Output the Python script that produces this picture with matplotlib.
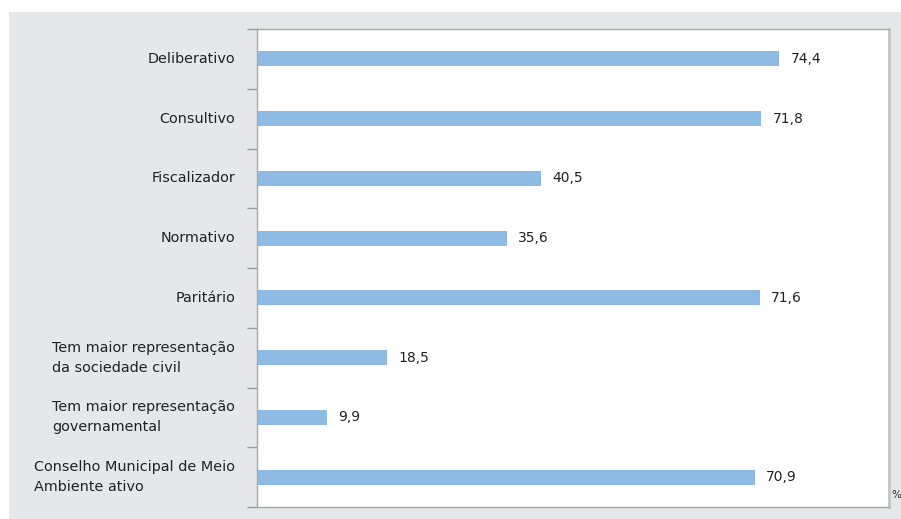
import matplotlib.pyplot as plt
from matplotlib.patches import Rectangle

# dados (%)
categorias = [
    "Deliberativo",
    "Consultivo",
    "Fiscalizador",
    "Normativo",
    "Paritário",
    "Tem maior representação\nda sociedade civil",
    "Tem maior representação\ngovernamental",
    "Conselho Municipal de Meio\nAmbiente ativo",
]
valores = [74.4, 71.8, 40.5, 35.6, 71.6, 18.5, 9.9, 70.9]
rotulos = ["74,4", "71,8", "40,5", "35,6", "71,6", "18,5", "9,9", "70,9"]

plt.rcParams['font.family'] = ['DejaVu Sans']

W, H = 901, 519
fig = plt.figure(figsize=(W / 100, H / 100), dpi=100)
fig.patch.set_facecolor('white')

# fundo cinza
fig.patches.append(Rectangle((9 / W, 0), 1 - 9 / W, 1 - 12 / H,
                             transform=fig.transFigure, facecolor='#e6e7e9',
                             edgecolor='none', zorder=-10))

x0, x1, y0, y1 = 257, 889, 29, 507
ax = fig.add_axes([x0 / W, 1 - y1 / H, (x1 - x0) / W, (y1 - y0) / H])
ax.set_facecolor('white')

n = len(categorias)
pos = list(range(n))
ax.barh(pos, valores, height=0.25, color='#8dbbe4', edgecolor='none')
ax.set_xlim(0, 90)
ax.set_ylim(n - 0.5, -0.5)

for p, v, r in zip(pos, valores, rotulos):
    ax.text(v + 1.6, p, r, va='center', ha='left', fontsize=10, color='#222222')

# rótulos das categorias
ax.set_yticks([])
for p, c in zip(pos, categorias):
    ax.text(-3.1, p, c, va='center', ha='right', multialignment='left',
            fontsize=10.4, color='#222222', transform=ax.transData,
            linespacing=1.55)

# marcas separadoras
ax.set_yticks([i - 0.5 for i in range(n + 1)], minor=True)
ax.tick_params(axis='y', which='minor', length=7, color='#9a9a9a', width=1)
ax.set_xticks([])

for s in ['left', 'top', 'bottom']:
    ax.spines[s].set_color('#a8a8a8')
    ax.spines[s].set_linewidth(1)
ax.spines['right'].set_color('#c4c4c4')
ax.spines['right'].set_linewidth(2)

fig.text(891 / W, 1 - 495 / H, "%", fontsize=7.5, color='#222222', va='center', ha='left')

fig.savefig('out.png', dpi=100)
